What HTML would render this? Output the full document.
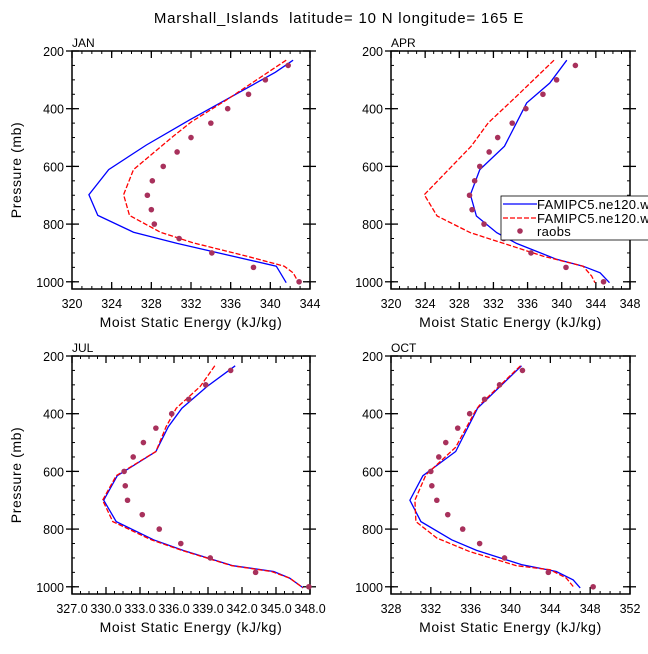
<!DOCTYPE html>
<html><head><meta charset="utf-8"><style>
html,body{margin:0;padding:0;background:#fff;}
svg text{font-family:"Liberation Sans",sans-serif;fill:#000;}
</style></head><body>
<svg id="chart" width="648" height="649" viewBox="0 0 648 649" xmlns="http://www.w3.org/2000/svg">
<text x="339" y="23" font-size="15" text-anchor="middle" letter-spacing="0.8" xml:space="preserve">Marshall_Islands  latitude= 10 N longitude= 165 E</text>
</svg>
<script>
// ---- data ----
const pressureTicks = [200,400,600,800,1000];
const raobPressures = [250,300,350,400,450,500,550,600,650,700,750,800,850,900,950,1000];
const janRaobs = [341.8,339.5,337.8,335.7,334.0,332.0,330.6,329.2,328.1,327.6,328.0,328.3,330.8,334.1,338.3,342.9];
const aprRaobs = [341.6,339.4,337.8,335.8,334.2,332.5,331.5,330.4,329.8,329.2,329.5,330.9,333.2,336.4,340.5,344.9];
const julRaobs = [341.0,338.8,337.3,335.8,334.4,333.3,332.4,331.6,331.7,331.9,333.2,334.7,336.6,339.2,343.2,347.9];
const octRaobs = [341.2,338.9,337.4,335.9,334.7,333.5,332.8,332.0,332.1,332.6,333.7,335.2,336.9,339.4,343.8,348.3];

const janBlueP = [232,274,438,526,611,698,770,828,867,946,969,1003];
const janBlueE = [342.3,340.5,331.9,327.5,323.7,321.7,322.6,326.2,330.6,340.6,341.0,341.6];
const janRedP = [232,369,444,496,611,698,770,828,865,911,946,969,1000];
const janRedE = [341.6,335.6,332.1,330.2,326.2,325.2,325.8,328.9,332.2,337.6,341.4,342.3,342.8];

const aprBlueP = [232,311,380,530,611,698,772,830,867,922,946,969,1003];
const aprBlueE = [340.6,338.6,335.9,333.3,330.4,329.3,330.0,332.4,334.7,339.4,342.5,344.5,345.6];
const aprRedP = [232,357,449,530,698,772,830,867,911,946,980,1003];
const aprRedE = [339.1,334.7,331.4,329.4,323.9,325.4,329.3,333.2,337.8,342.5,343.5,343.9];

const julBlueP = [234,306,381,445,531,615,700,774,837,874,927,947,970,1004];
const julBlueE = [341.4,338.9,336.7,335.5,334.4,331.0,329.8,330.9,334.2,336.8,341.2,344.8,346.2,347.4];
const julRedP = [234,306,381,445,531,615,700,774,837,874,927,947,970,1004];
const julRedE = [339.6,338.3,336.2,335.3,334.4,330.9,329.7,330.6,334.0,336.7,341.1,344.6,346.2,347.4];

const octBlueP = [234,381,531,615,700,774,837,874,923,947,976,1004];
const octBlueE = [341.1,336.7,334.5,331.2,329.9,331.0,334.1,336.6,341.1,344.6,346.3,347.0];
const octRedP = [234,370,389,516,612,700,774,831,878,927,941,970,999];
const octRedE = [341.0,336.9,336.5,334.5,331.5,330.4,330.5,332.6,335.9,340.6,344.0,345.6,346.3];

const janTicks = [320,324,328,332,336,340,344];
const aprTicks = [320,324,328,332,336,340,344,348];
const julTicks = [327.0,330.0,333.0,336.0,339.0,342.0,345.0,348.0];
const octTicks = [328,332,336,340,344,348,352];
const julTickLabels = ["327.0","330.0","333.0","336.0","339.0","342.0","345.0","348.0"];

// ---- drawing ----
const NS = "http://www.w3.org/2000/svg";
const svg = document.getElementById('chart');
function mk(tag, attrs, parent){
  const e = document.createElementNS(NS, tag);
  for (const k in attrs) e.setAttribute(k, attrs[k]);
  (parent||svg).appendChild(e);
  return e;
}
function panel(cfg){
  const g = mk('g', {});
  
  
  const L=cfg.x0, R=cfg.x1, T=cfg.y0, B=cfg.y0+238;
  const pMin=200, pMax=1025;
  const xs = v => L + (v - cfg.xmin)/(cfg.xmax - cfg.xmin)*(R-L);
  const ys = p => T + (p - pMin)/(pMax - pMin)*(B-T);
  const step = cfg.ticks[1]-cfg.ticks[0];
  for (let v=cfg.xmin; v<=cfg.xmax+1e-6; v+=step/4){
    const X=xs(v);
    mk('line',{x1:X,x2:X,y1:B,y2:B-3,stroke:'#000','stroke-width':1},g);
    mk('line',{x1:X,x2:X,y1:T,y2:T+3,stroke:'#000','stroke-width':1},g);
  }
  for (let p=200; p<=1000; p+=50){
    const Y=ys(p);
    mk('line',{x1:L,x2:L+3,y1:Y,y2:Y,stroke:'#000','stroke-width':1},g);
    mk('line',{x1:R,x2:R-3,y1:Y,y2:Y,stroke:'#000','stroke-width':1},g);
  }
  cfg.ticks.forEach((v,i)=>{
    const X=xs(v);
    mk('line',{x1:X,x2:X,y1:B,y2:B-7,stroke:'#000','stroke-width':1.3},g);
    mk('line',{x1:X,x2:X,y1:T,y2:T+7,stroke:'#000','stroke-width':1.3},g);
    const t=mk('text',{x:X,y:B+19,'font-size':12.5,'text-anchor':'middle'},g);
    
    
    t.textContent = cfg.labels ? cfg.labels[i] : String(v);
  });
  pressureTicks.forEach(p=>{
    const Y=ys(p);
    mk('line',{x1:L-6,x2:L+7,y1:Y,y2:Y,stroke:'#000','stroke-width':1.3},g);
    mk('line',{x1:R+6,x2:R-7,y1:Y,y2:Y,stroke:'#000','stroke-width':1.3},g);
    const t=mk('text',{x:L-8,y:Y+5,'font-size':12.5,'text-anchor':'end'},g);
    
    
    t.textContent=String(p);
  });
  const fr=mk('rect',{x:L,y:T,width:R-L,height:B-T,fill:'none',stroke:'#000','stroke-width':1.5},g);
  
  
  const lab=mk('text',{x:L,y:T-4,'font-size':12},g);
  
  
  lab.textContent=cfg.name;
  const xt=mk('text',{x:(L+R)/2,y:B+38,'font-size':14,'text-anchor':'middle','letter-spacing':0.6},g);
  
  
  xt.textContent='Moist Static Energy (kJ/kg)';
  if (cfg.ylabel){
    const yt=mk('text',{x:0,y:0,'font-size':14,'text-anchor':'middle','letter-spacing':0.6,transform:`translate(21,${(T+B)/2}) rotate(-90)`},g);
    
    
    yt.textContent='Pressure (mb)';
  }
  const pts=(E,P)=>E.map((e,i)=>xs(e).toFixed(1)+','+ys(P[i]).toFixed(1)).join(' ');
  const blue=mk('polyline',{points:pts(cfg.blueE,cfg.blueP),fill:'none',stroke:'#0000ff','stroke-width':1.3},g);
  
  
  const red=mk('polyline',{points:pts(cfg.redE,cfg.redP),fill:'none',stroke:'#ff0000','stroke-width':1.3,'stroke-dasharray':'5,2'},g);
  
  
  cfg.raobs.forEach((e,i)=>{
    const c=mk('circle',{cx:xs(e),cy:ys(raobPressures[i]),r:2.8,fill:'#a8315c'},g);
    
    
  });
}
panel({name:'JAN',x0:72,x1:310,y0:51,xmin:320,xmax:344,ticks:janTicks,ylabel:true,raobs:janRaobs,blueE:janBlueE,blueP:janBlueP,redE:janRedE,redP:janRedP});
panel({name:'APR',x0:391,x1:630,y0:51,xmin:320,xmax:348,ticks:aprTicks,ylabel:false,raobs:aprRaobs,blueE:aprBlueE,blueP:aprBlueP,redE:aprRedE,redP:aprRedP});
panel({name:'JUL',x0:72,x1:310,y0:356,xmin:327,xmax:348,ticks:julTicks,labels:julTickLabels,ylabel:true,raobs:julRaobs,blueE:julBlueE,blueP:julBlueP,redE:julRedE,redP:julRedP});
panel({name:'OCT',x0:391,x1:630,y0:356,xmin:328,xmax:352,ticks:octTicks,ylabel:false,raobs:octRaobs,blueE:octBlueE,blueP:octBlueP,redE:octRedE,redP:octRedP});

const lg = mk('g',{});


mk('rect',{x:501,y:196,width:160,height:44,fill:'#fff',stroke:'#000','stroke-width':0.8},lg);
mk('line',{x1:503,x2:537,y1:204,y2:204,stroke:'#0000ff','stroke-width':1.3},lg);
mk('line',{x1:503,x2:537,y1:218,y2:218,stroke:'#ff0000','stroke-width':1.3,'stroke-dasharray':'5,2'},lg);
mk('circle',{cx:520,cy:231,r:2.8,fill:'#a8315c'},lg);
[['FAMIPC5.ne120.wgx',209],['FAMIPC5.ne120.wgx',223],['raobs',236]].forEach(([s,y])=>{
  const t=mk('text',{x:537,y:y,'font-size':13,'letter-spacing':0.3},lg);
  
  
  t.textContent=s;
});
</script>
</body></html>
